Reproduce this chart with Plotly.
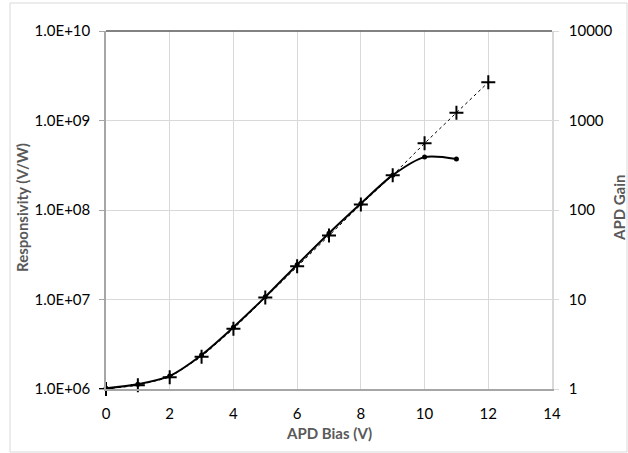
import plotly.graph_objects as go

# Data
bias_resp = [0, 1, 2, 3, 4, 5, 6, 7, 8, 9, 10, 11]
responsivity = [1.02e6, 1.13e6, 1.40e6, 2.40e6, 4.9e6, 1.07e7, 2.45e7, 5.5e7, 1.18e8, 2.45e8, 3.9e8, 3.72e8]

bias_gain = [0, 1, 2, 3, 4, 5, 6, 7, 8, 9, 10, 11, 12]
gain = [1.0, 1.1, 1.35, 2.3, 4.7, 10.5, 23.5, 52, 115, 245, 556, 1222, 2672]

x_ticks = [0, 2, 4, 6, 8, 10, 12, 14]
left_tickvals = [1e6, 1e7, 1e8, 1e9, 1e10]
left_ticktext = ["1.0E+06", "1.0E+07", "1.0E+08", "1.0E+09", "1.0E+10"]
right_tickvals = [1, 10, 100, 1000, 10000]
right_ticktext = ["1", "10", "100", "1000", "10000"]

FONT = "Lato, 'Open Sans', sans-serif"
TITLE_FONT = dict(family=FONT, size=15, color="#595959")

L, R, T, B = 106, 76, 31, 64
W, H = 628, 453
PW, PH = W - L - R, H - T - B

fig = go.Figure()

fig.add_trace(go.Scatter(
    x=bias_gain, y=gain, yaxis="y2", mode="lines+markers",
    line=dict(color="black", width=1, dash="3px,3px"),
    marker=dict(symbol="cross-thin", size=10, line=dict(color="black", width=2)),
    cliponaxis=False, showlegend=False,
))

fig.add_trace(go.Scatter(
    x=bias_resp, y=responsivity, mode="lines+markers",
    line=dict(color="black", width=2, shape="spline", smoothing=0.8),
    marker=dict(symbol="circle", size=5, color="black"),
    cliponaxis=False, showlegend=False,
))

fig.update_layout(
    width=W, height=H,
    margin=dict(l=L, r=R, t=T, b=B),
    paper_bgcolor="white", plot_bgcolor="white",
    font=dict(family=FONT, size=15, color="black"),
    xaxis=dict(
        range=[0, 14], tickvals=x_ticks, ticktext=[str(v) for v in x_ticks],
        showgrid=True, gridcolor="#D9D9D9", gridwidth=1,
        showline=True, linecolor="#A6A6A6", linewidth=1.5,
        ticks="", zeroline=False, automargin=False, ticklabelstandoff=10,
    ),
    yaxis=dict(
        type="log", range=[6, 10], tickvals=left_tickvals, ticktext=left_ticktext,
        showgrid=True, gridcolor="#D9D9D9", gridwidth=1,
        showline=True, linecolor="#A6A6A6", linewidth=1.5,
        ticks="outside", ticklen=5, tickcolor="#A6A6A6",
        zeroline=False, automargin=False, ticklabelstandoff=6,
    ),
    yaxis2=dict(
        type="log", range=[0, 4], tickvals=right_tickvals, ticktext=right_ticktext,
        overlaying="y", side="right", showgrid=False,
        showline=True, linecolor="#D9D9D9", linewidth=1.5,
        ticks="outside", ticklen=5, tickcolor="#D9D9D9",
        zeroline=False, automargin=False, ticklabelstandoff=7,
    ),
    annotations=[
        dict(text="<b>APD Bias (V)</b>", xref="paper", yref="paper",
             x=0.5, y=(389 - 433) / PH, xanchor="center", yanchor="middle",
             showarrow=False, font=TITLE_FONT),
        dict(text="<b>Responsivity (V/W)</b>", xref="paper", yref="paper",
             x=(22 - L) / PW, y=(389 - 208) / PH, xanchor="center", yanchor="middle",
             textangle=-90, showarrow=False, font=TITLE_FONT),
        dict(text="<b>APD Gain</b>", xref="paper", yref="paper",
             x=(619 - L) / PW, y=(389 - 208) / PH, xanchor="center", yanchor="middle",
             textangle=-90, showarrow=False, font=TITLE_FONT),
    ],
    shapes=[
        dict(type="line", xref="paper", yref="paper", x0=0, x1=1, y0=1, y1=1,
             line=dict(color="#595959", width=1.5)),
        dict(type="rect", xref="paper", yref="paper",
             x0=(10 - L) / PW, x1=(627 - L) / PW, y0=-(452 - 389) / PH, y1=(389 - 3) / PH,
             line=dict(color="#D9D9D9", width=1), layer="below"),
    ],
)

fig.write_html(
    "out.html",
    config={"displayModeBar": False},
    post_script="document.body.style.margin='0';document.body.style.overflow='hidden';",
)
